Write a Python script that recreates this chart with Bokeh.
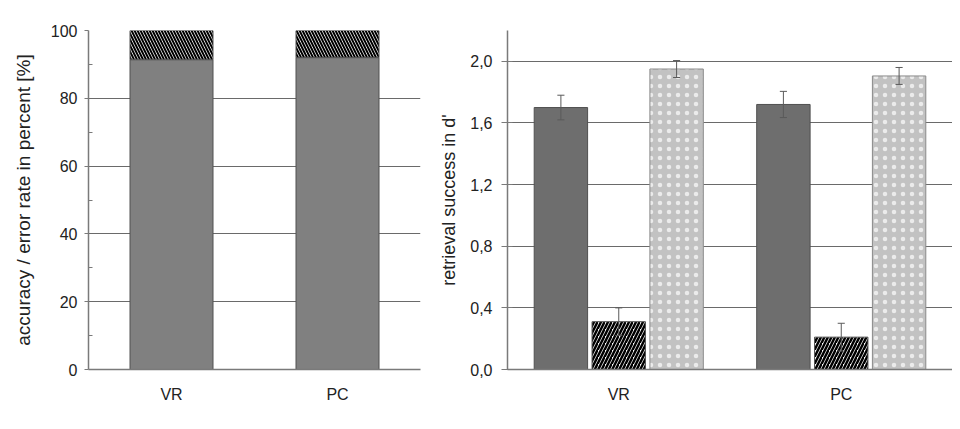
from bokeh.plotting import figure
from bokeh.layouts import row
from bokeh.models import FixedTicker, Legend, LegendItem, Label
from bokeh.embed import file_html
from bokeh.resources import INLINE

# ---------------- data ----------------
categories = ["VR", "PC"]
accuracy = [91.4, 92.0]
error_rate = [8.6, 8.0]

d_general = [1.70, 1.72]
se_general = [0.08, 0.085]
d_familiarity = [0.31, 0.21]
se_familiarity = [0.09, 0.09]
d_recollection = [1.95, 1.905]
se_recollection = [0.055, 0.055]

a_ticks = [0, 20, 40, 60, 80, 100]
a_minor = [10, 30, 50, 70, 90]
b_ticks = [0.0, 0.4, 0.8, 1.2, 1.6, 2.0]
b_tick_labels = ["0,0", "0,4", "0,8", "1,2", "1,6", "2,0"]
b_grid = [0.4, 0.8, 1.2, 1.6, 2.0, 2.2]

FONT = "Liberation Sans"
TXT = "#222222"
GRID = "#6a6a6a"
AXIS = "#7a7a7a"
EDGE = "#505050"
H = 425
TOP = 30
BOTTOM = 56

xc = [i + 0.5 for i in range(len(categories))]          # category centres
cat_overrides = {x: c for x, c in zip(xc, categories)}


def style_axes(p, label, label_size, label_standoff, tick_out, tick_in, standoff):
    p.outline_line_color = None
    p.xgrid.grid_line_color = None
    p.ygrid.grid_line_color = GRID
    p.ygrid.grid_line_width = 1
    p.xaxis.ticker = FixedTicker(ticks=xc, minor_ticks=[])
    p.xaxis.major_label_overrides = cat_overrides
    p.xaxis.major_tick_line_color = None
    p.xaxis.minor_tick_line_color = None
    p.xaxis.major_label_standoff = 10
    for ax in (p.xaxis, p.yaxis):
        ax.major_label_text_font = FONT
        ax.major_label_text_font_size = "16px"
        ax.major_label_text_color = TXT
        ax.axis_line_color = AXIS
        ax.axis_line_width = 1.5
    p.yaxis.axis_label = label
    p.yaxis.axis_label_text_font = FONT
    p.yaxis.axis_label_text_font_size = label_size
    p.yaxis.axis_label_text_font_style = "normal"
    p.yaxis.axis_label_text_color = TXT
    p.yaxis.axis_label_standoff = label_standoff
    p.yaxis.major_tick_out = tick_out
    p.yaxis.major_tick_in = tick_in
    p.yaxis.major_tick_line_color = AXIS
    p.yaxis.major_label_standoff = standoff


# ---------------- panel A ----------------
pA = figure(width=430, height=H, x_range=(0, 2), y_range=(0, 100),
            output_backend="svg", toolbar_location=None,
            min_border_left=88, min_border_right=10, min_border_top=TOP, min_border_bottom=BOTTOM)
style_axes(pA, "accuracy / error rate in percent [%]", "19px", 14, 4, 0, 7)
pA.yaxis.ticker = FixedTicker(ticks=a_ticks, minor_ticks=a_minor)
pA.yaxis.minor_tick_in = 4
pA.yaxis.minor_tick_out = 0
pA.yaxis.minor_tick_line_color = AXIS
pA.ygrid.ticker = FixedTicker(ticks=a_ticks[1:])

err_top = [a + e for a, e in zip(accuracy, error_rate)]
rA1 = pA.vbar(x=xc, top=accuracy, bottom=0, width=0.5,
              fill_color="#808080", line_color=EDGE, line_width=1)
rA2 = pA.vbar(x=xc, top=err_top, bottom=accuracy, width=0.5,
              fill_color="white", line_color=EDGE, line_width=1,
              hatch_pattern="\\", hatch_color="black", hatch_scale=6, hatch_weight=2)

legA = Legend(items=[LegendItem(label="accuracy", renderers=[rA1]),
                     LegendItem(label="error rate", renderers=[rA2])],
              orientation="horizontal", location=(51, -(BOTTOM - 1)),
              label_text_font=FONT, label_text_font_size="18px", label_text_color=TXT,
              glyph_width=12, glyph_height=12, label_standoff=3, spacing=26,
              padding=0, margin=0, border_line_color=None, background_fill_alpha=0)
pA.add_layout(legA)
pA.add_layout(Label(x=-0.45, y=99.4, text="A", text_font=FONT, text_font_size="23px",
                    text_font_style="bold", text_color="black", text_baseline="alphabetic"))

# ---------------- panel B ----------------
pB = figure(width=522, height=H, x_range=(0, 2), y_range=(0, 2.2),
            output_backend="svg", toolbar_location=None,
            min_border_left=77, min_border_right=0, min_border_top=TOP, min_border_bottom=BOTTOM)
style_axes(pB, "retrieval success in d'", "18px", 8, 6, 5, 9)
pB.yaxis.ticker = FixedTicker(ticks=b_ticks, minor_ticks=[])
pB.yaxis.minor_tick_line_color = None
pB.yaxis.major_label_overrides = {t: s for t, s in zip(b_ticks, b_tick_labels)}
pB.ygrid.ticker = FixedTicker(ticks=b_grid)

off = 0.26
bw = 0.24
series = [
    ("d'-general", d_general, se_general, -off,
     dict(fill_color="#6e6e6e", line_color=EDGE)),
    ("d'-familiarity", d_familiarity, se_familiarity, 0.0,
     dict(fill_color="white", line_color=EDGE, hatch_pattern="/", hatch_color="black",
          hatch_scale=7, hatch_weight=2.5)),
    ("d'-recollection", d_recollection, se_recollection, off,
     dict(fill_color="#c2c2c2", line_color="#8a8a8a", hatch_pattern=".",
          hatch_color="#ebebeb", hatch_scale=9, hatch_weight=1.5)),
]
items = []
cap = 0.016
for name, vals, ses, o, sty in series:
    xs = [x + o for x in xc]
    r = pB.vbar(x=xs, top=vals, bottom=0, width=bw, line_width=1, **sty)
    items.append(LegendItem(label=name, renderers=[r]))
    lo = [v - s for v, s in zip(vals, ses)]
    hi = [v + s for v, s in zip(vals, ses)]
    pB.segment(x0=xs, y0=lo, x1=xs, y1=hi, line_color="#5a5a5a", line_width=1)
    pB.segment(x0=[x - cap for x in xs], y0=hi, x1=[x + cap for x in xs], y1=hi,
               line_color="#5a5a5a", line_width=1)
    pB.segment(x0=[x - cap for x in xs], y0=lo, x1=[x + cap for x in xs], y1=lo,
               line_color="#5a5a5a", line_width=1)

legB = Legend(items=items, orientation="horizontal", location=(2, -(BOTTOM - 1)),
              label_text_font=FONT, label_text_font_size="19px", label_text_color=TXT,
              label_text_font_style="italic",
              glyph_width=12, glyph_height=12, label_standoff=5, spacing=28,
              padding=0, margin=0, border_line_color=None, background_fill_alpha=0)
pB.add_layout(legB)
pB.add_layout(Label(x=-0.279, y=2.168, text="B", text_font=FONT, text_font_size="23px",
                    text_font_style="bold", text_color="black", text_baseline="alphabetic"))

open("out.html", "w").write(file_html(row(pA, pB), INLINE))
